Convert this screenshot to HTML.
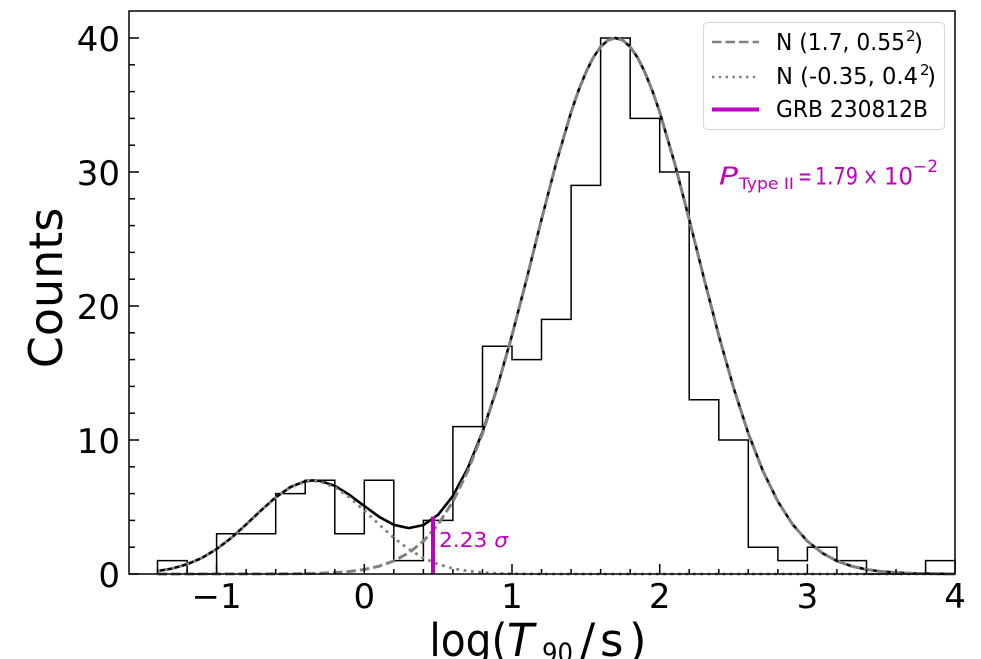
<!DOCTYPE html>
<html><head><meta charset="utf-8"><style>
html,body{margin:0;padding:0;background:#fff;}
svg{display:block;}
text{font-family:"DejaVu Sans","Liberation Sans",sans-serif;}
</style></head><body>
<svg width="981" height="659" viewBox="0 0 981 659" xmlns="http://www.w3.org/2000/svg">
<rect width="981" height="659" fill="#fff"/>
<!-- histogram -->
<path d="M157.5,574 V560.6 H187.1 V574 H216.6 V533.8 H275.7 V493.6 H305.2 V480.2 H334.8 V533.8 H364.3 V480.2 H393.8 V560.6 H423.4 V520.4 H452.9 V426.6 H482.5 V346.2 H512.0 V359.6 H541.5 V319.4 H571.1 V185.4 H600.6 V38 H630.2 V118.4 H659.7 V172 H689.2 V399.8 H718.8 V440 H748.3 V547.2 H777.9 V560.6 H807.4 V547.2 H836.9 V560.6 H866.5 V574 H925.6 V560.6 H955.1 V574" fill="none" stroke="#000" stroke-width="1.5"/>
<!-- total -->
<polyline fill="none" stroke="#000" stroke-width="2.6" stroke-linejoin="round" points="157.5,571.0 172.3,568.5 187.1,564.3 201.8,558.0 216.6,549.1 231.4,537.8 246.1,524.5 260.9,510.5 275.7,497.3 290.5,487.0 305.2,481.2 312.6,480.4 320.0,480.9 334.8,485.8 349.5,494.9 364.3,506.0 379.1,516.8 393.8,524.8 408.6,528.1 423.4,525.1 438.2,514.7 452.9,495.9 467.7,468.4 482.5,431.9 497.2,387.2 512.0,335.2 526.8,278.3 541.5,219.4 556.3,162.6 571.1,112.1 578.5,90.6 585.9,72.3 593.2,57.6 600.6,46.8 608.0,40.2 615.4,38.0 622.8,40.2 630.2,46.8 637.6,57.6 644.9,72.3 652.3,90.6 659.7,112.1 674.5,162.6 689.2,219.4 704.0,278.4 718.8,335.5 733.6,387.9 748.3,433.4 763.1,471.4 777.9,501.5 792.6,524.4 807.4,541.2 822.2,553.0 836.9,561.0 851.7,566.2 866.5,569.5 881.3,571.5 896.0,572.6 910.8,573.3 925.6,573.6 940.3,573.8 955.1,573.9"/>
<!-- N1 dashed -->
<polyline fill="none" stroke="#808080" stroke-width="3" stroke-dasharray="9.5 4" stroke-linejoin="round" points="157.5,574 290.5,573.8 305.2,573.6 320.0,573.3 334.8,572.6 349.5,571.5 364.3,569.5 379.1,566.2 393.8,561.0 408.6,553.0 423.4,541.2 438.2,524.4 452.9,501.5 467.7,471.4 482.5,433.4 497.2,387.9 512.0,335.5 526.8,278.4 541.5,219.5 556.3,162.6 571.1,112.1 578.5,90.6 585.9,72.3 593.2,57.6 600.6,46.8 608.0,40.2 615.4,38.0 622.8,40.2 630.2,46.8 637.6,57.6 644.9,72.3 652.3,90.6 659.7,112.1 674.5,162.6 689.2,219.4 704.0,278.4 718.8,335.5 733.6,387.9 748.3,433.4 763.1,471.4 777.9,501.5 792.6,524.4 807.4,541.2 822.2,553.0 836.9,561.0 851.7,566.2 866.5,569.5 881.3,571.5 896.0,572.6 910.8,573.3 925.6,573.6 940.3,573.8 955.1,573.9"/>
<!-- N2 dotted -->
<polyline fill="none" stroke="#808080" stroke-width="2.8" stroke-dasharray="2.8 4.6" stroke-linejoin="round" points="157.5,571.0 172.3,568.5 187.1,564.3 201.8,558.0 216.6,549.1 231.4,537.8 246.1,524.5 260.9,510.5 275.7,497.4 290.5,487.2 305.2,481.6 312.6,480.9 320.0,481.6 334.8,487.2 349.5,497.4 364.3,510.5 379.1,524.5 393.8,537.8 408.6,549.1 423.4,558.0 438.2,564.3 452.9,568.5 467.7,571.0 482.5,572.5 497.2,573.3 512.0,573.7 541.5,574 955.1,574"/>
<!-- GRB line -->
<line x1="433" y1="574" x2="433" y2="516.5" stroke="#c000c0" stroke-width="4"/>
<text x="439" y="547" font-size="20.5" fill="#c000c0" textLength="69" lengthAdjust="spacingAndGlyphs">2.23 <tspan font-style="italic">σ</tspan></text>
<!-- spines -->
<rect x="129" y="11" width="826" height="563" fill="none" stroke="#000" stroke-width="1.5"/>
<!-- y ticks -->
<g stroke="#000" stroke-width="1.5">
<line x1="129" y1="574" x2="139" y2="574"/>
<line x1="129" y1="440" x2="139" y2="440"/>
<line x1="129" y1="306" x2="139" y2="306"/>
<line x1="129" y1="172" x2="139" y2="172"/>
<line x1="129" y1="38" x2="139" y2="38"/>
<line x1="129" y1="547.2" x2="135" y2="547.2"/>
<line x1="129" y1="520.4" x2="135" y2="520.4"/>
<line x1="129" y1="493.6" x2="135" y2="493.6"/>
<line x1="129" y1="466.8" x2="135" y2="466.8"/>
<line x1="129" y1="413.2" x2="135" y2="413.2"/>
<line x1="129" y1="386.4" x2="135" y2="386.4"/>
<line x1="129" y1="359.6" x2="135" y2="359.6"/>
<line x1="129" y1="332.8" x2="135" y2="332.8"/>
<line x1="129" y1="279.2" x2="135" y2="279.2"/>
<line x1="129" y1="252.4" x2="135" y2="252.4"/>
<line x1="129" y1="225.6" x2="135" y2="225.6"/>
<line x1="129" y1="198.8" x2="135" y2="198.8"/>
<line x1="129" y1="145.2" x2="135" y2="145.2"/>
<line x1="129" y1="118.4" x2="135" y2="118.4"/>
<line x1="129" y1="91.6" x2="135" y2="91.6"/>
<line x1="129" y1="64.8" x2="135" y2="64.8"/>
</g>
<!-- x ticks -->
<g stroke="#000" stroke-width="1.5">
<line x1="216.6" y1="574" x2="216.6" y2="564"/>
<line x1="364.3" y1="574" x2="364.3" y2="564"/>
<line x1="512.0" y1="574" x2="512.0" y2="564"/>
<line x1="659.7" y1="574" x2="659.7" y2="564"/>
<line x1="807.4" y1="574" x2="807.4" y2="564"/>
<line x1="157.5" y1="574" x2="157.5" y2="569"/>
<line x1="187.1" y1="574" x2="187.1" y2="569"/>
<line x1="246.1" y1="574" x2="246.1" y2="569"/>
<line x1="275.7" y1="574" x2="275.7" y2="569"/>
<line x1="305.2" y1="574" x2="305.2" y2="569"/>
<line x1="334.8" y1="574" x2="334.8" y2="569"/>
<line x1="393.8" y1="574" x2="393.8" y2="569"/>
<line x1="423.4" y1="574" x2="423.4" y2="569"/>
<line x1="452.9" y1="574" x2="452.9" y2="569"/>
<line x1="482.5" y1="574" x2="482.5" y2="569"/>
<line x1="541.5" y1="574" x2="541.5" y2="569"/>
<line x1="571.1" y1="574" x2="571.1" y2="569"/>
<line x1="600.6" y1="574" x2="600.6" y2="569"/>
<line x1="630.2" y1="574" x2="630.2" y2="569"/>
<line x1="689.2" y1="574" x2="689.2" y2="569"/>
<line x1="718.8" y1="574" x2="718.8" y2="569"/>
<line x1="748.3" y1="574" x2="748.3" y2="569"/>
<line x1="777.9" y1="574" x2="777.9" y2="569"/>
<line x1="836.9" y1="574" x2="836.9" y2="569"/>
<line x1="866.5" y1="574" x2="866.5" y2="569"/>
<line x1="896.0" y1="574" x2="896.0" y2="569"/>
<line x1="925.6" y1="574" x2="925.6" y2="569"/>
</g>
<!-- tick labels -->
<g font-size="34" fill="#000" text-anchor="end">
<text x="120" y="587">0</text>
<text x="120" y="453">10</text>
<text x="120" y="319">20</text>
<text x="120" y="185">30</text>
<text x="120" y="51">40</text>
</g>
<g font-size="34" fill="#000" text-anchor="middle">
<text x="216.6" y="608">−1</text>
<text x="364.3" y="608">0</text>
<text x="512.0" y="608">1</text>
<text x="659.7" y="608">2</text>
<text x="807.4" y="608">3</text>
<text x="955.1" y="608">4</text>
</g>
<!-- axis labels -->
<text transform="translate(62,288) rotate(-90)" font-size="46" text-anchor="middle" fill="#000">Counts</text>
<g fill="#000" font-size="45">
<text x="429.4" y="656" textLength="78" lengthAdjust="spacingAndGlyphs">log(</text>
<text x="507" y="656" font-style="italic" textLength="27" lengthAdjust="spacingAndGlyphs">T</text>
<text x="542" y="662" font-size="27" textLength="31" lengthAdjust="spacingAndGlyphs">90</text>
<text x="580" y="656">/</text>
<text x="600" y="656">s</text>
<text x="629" y="656">)</text>
</g>
<!-- legend -->
<rect x="703.5" y="22.5" width="241" height="107" rx="4" ry="4" fill="#fff" fill-opacity="0.8" stroke="#d6d6d6" stroke-width="1"/>
<line x1="712" y1="42" x2="759" y2="42" stroke="#808080" stroke-width="2.6" stroke-dasharray="9.5 4"/>
<line x1="712" y1="77" x2="759" y2="77" stroke="#808080" stroke-width="2.4" stroke-dasharray="2.4 4.4"/>
<line x1="712" y1="109.5" x2="759" y2="109.5" stroke="#c000c0" stroke-width="4"/>
<g font-size="23" fill="#000">
<text x="776" y="50" textLength="129" lengthAdjust="spacingAndGlyphs">N (1.7, 0.55</text>
<text x="906" y="41" font-size="15">2</text>
<text x="914" y="50">)</text>
<text x="776" y="84" textLength="142" lengthAdjust="spacingAndGlyphs">N (-0.35, 0.4</text>
<text x="920" y="75" font-size="15">2</text>
<text x="927" y="84">)</text>
<text x="776" y="117" textLength="152" lengthAdjust="spacingAndGlyphs">GRB 230812B</text>
</g>
<!-- probability -->
<g fill="#c000c0" font-size="22">
<text x="719" y="184.5" font-size="25" font-style="italic" textLength="19" lengthAdjust="spacingAndGlyphs">P</text>
<text x="739" y="189" font-size="16" textLength="55" lengthAdjust="spacingAndGlyphs">Type II</text>
<text x="798" y="184.5" font-size="24" textLength="14" lengthAdjust="spacingAndGlyphs">=</text>
<text x="815" y="184.5" font-size="24" textLength="43" lengthAdjust="spacingAndGlyphs">1.79</text>
<text x="863" y="184.5" font-size="24" textLength="15" lengthAdjust="spacingAndGlyphs">×</text>
<text x="884" y="184.5" font-size="24" textLength="29" lengthAdjust="spacingAndGlyphs">10</text>
<text x="913" y="172" font-size="16.5" textLength="25" lengthAdjust="spacingAndGlyphs">−2</text>
</g>
</svg>
</body></html>
